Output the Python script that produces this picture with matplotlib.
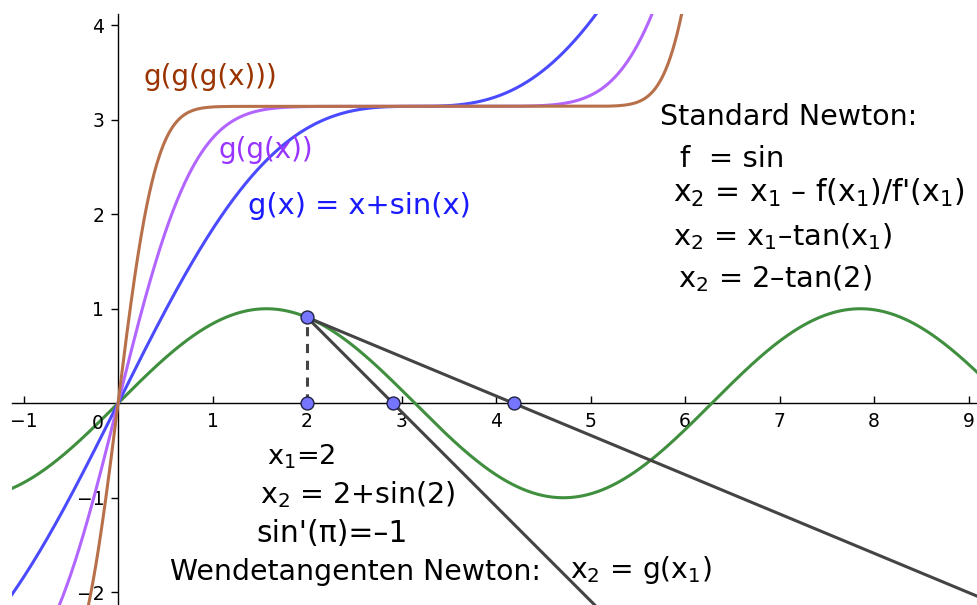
import numpy as np
import matplotlib
matplotlib.use("Agg")
import matplotlib.pyplot as plt

# chart data: sin, its fixed-point iteration g(x) = x + sin(x), and one Newton step from x1
x_start = 2.0
x_ticks = [-1, 1, 2, 3, 4, 5, 6, 7, 8, 9]
y_ticks = [-2, -1, 1, 2, 3, 4]

labels_curves = ["g(g(g(x)))", "g(g(x))", "g(x) = x+sin(x)"]
text_right = ["Standard Newton:", "f  = sin", "x$_2$ = x$_1$ \u2013 f(x$_1$)/f'(x$_1$)",
              "x$_2$ = x$_1$\u2013tan(x$_1$)", "x$_2$ = 2\u2013tan(2)"]
text_bottom = ["x$_1$=2", "x$_2$ = 2+sin(2)", "sin'(\u03c0)=\u20131",
               "Wendetangenten Newton:", "x$_2$ = g(x$_1$)"]


def g(x):
    return x + np.sin(x)


xs = np.linspace(-1.3, 9.3, 4000)
y_sin = np.sin(xs)
y_g1 = g(xs)
y_g2 = g(g(xs))
y_g3 = g(g(g(xs)))

y_start = np.sin(x_start)
newton_x2 = x_start - np.tan(x_start)       # standard Newton step
wende_x2 = x_start + np.sin(x_start)        # inflection tangent step (slope -1)

plt.rcParams['font.family'] = ['DejaVu Sans']
plt.rcParams['mathtext.default'] = 'regular'
fig = plt.figure(figsize=(9.78, 6.05), dpi=100)
ax = fig.add_axes([12 / 978, 0, 1 - 12 / 978, 1 - 14 / 605])
ax.set_xlim(-1.122, 9.10)
ax.set_ylim(-2.135, 4.119)

green = "#3f8f3f"
blue = "#4a4aff"
purple = "#b266ff"
brown = "#b8704a"
grey = "#444444"

ax.plot(xs, y_sin, color=green, lw=2.2, zorder=3)
ax.plot(xs, y_g1, color=blue, lw=2.2, zorder=3)
ax.plot(xs, y_g2, color=purple, lw=2.2, zorder=3)
ax.plot(xs, y_g3, color=brown, lw=2.2, zorder=3)

# tangent rays from (x1, sin x1)
xr = np.array([x_start, 12.0])
ax.plot(xr, y_start + np.cos(x_start) * (xr - x_start), color=grey, lw=2.2, zorder=3)
ax.plot(xr, y_start - 1.0 * (xr - x_start), color=grey, lw=2.2, zorder=3)
ax.plot([x_start, x_start], [0, y_start], color=grey, lw=2.2, ls=(0, (3, 2.5)), zorder=3)

px = [x_start, x_start, wende_x2, newton_x2]
py = [y_start, 0, 0, 0]
ax.plot(px, py, 'o', ms=9.3, mfc="#7575ff", mec="#222244", mew=1, zorder=5, ls='none')

# axes through the origin
for s in ["top", "right"]:
    ax.spines[s].set_visible(False)
ax.spines["left"].set_position(("data", 0))
ax.spines["bottom"].set_position(("data", 0))
ax.spines["left"].set_linewidth(1)
ax.spines["bottom"].set_linewidth(1)
ax.set_xticks(x_ticks)
ax.set_yticks(y_ticks)
ax.tick_params(axis="x", direction="in", length=5, width=1, pad=6, labelsize=13.5)
ax.tick_params(axis="y", direction="out", length=5, width=1, pad=5, labelsize=13.5)
ax.text(-0.21, -0.21, "0", fontsize=13.5, ha="center", va="center")
ax.patch.set_visible(False)

ax.text(0.265, 3.45, labels_curves[0], color="#993300", fontsize=20, va="center")
ax.text(1.06, 2.68, labels_curves[1], color="#9933ff", fontsize=20, va="center")
ax.text(1.376, 2.09, labels_curves[2], color="#1a1aff", fontsize=20.8, va="center")

right_pos = [(5.735, 2.94), (5.947, 2.50), (5.87, 2.13), (5.87, 1.674), (5.93, 1.23)]
right_fs = [20.5, 21, 21.5, 20.8, 20.8]
for t, (tx, ty), f in zip(text_right, right_pos, right_fs):
    ax.text(tx, ty, t, fontsize=f, va="baseline")

bottom_pos = [(1.572, -0.653), (1.503, -1.059), (1.467, -1.465), (0.55, -1.871), (4.783, -1.85)]
bottom_fs = [19.5, 20.5, 21.5, 20.4, 20.3]
for t, (tx, ty), f in zip(text_bottom, bottom_pos, bottom_fs):
    ax.text(tx, ty, t, fontsize=f, va="baseline")

fig.savefig("out.png", dpi=100)
